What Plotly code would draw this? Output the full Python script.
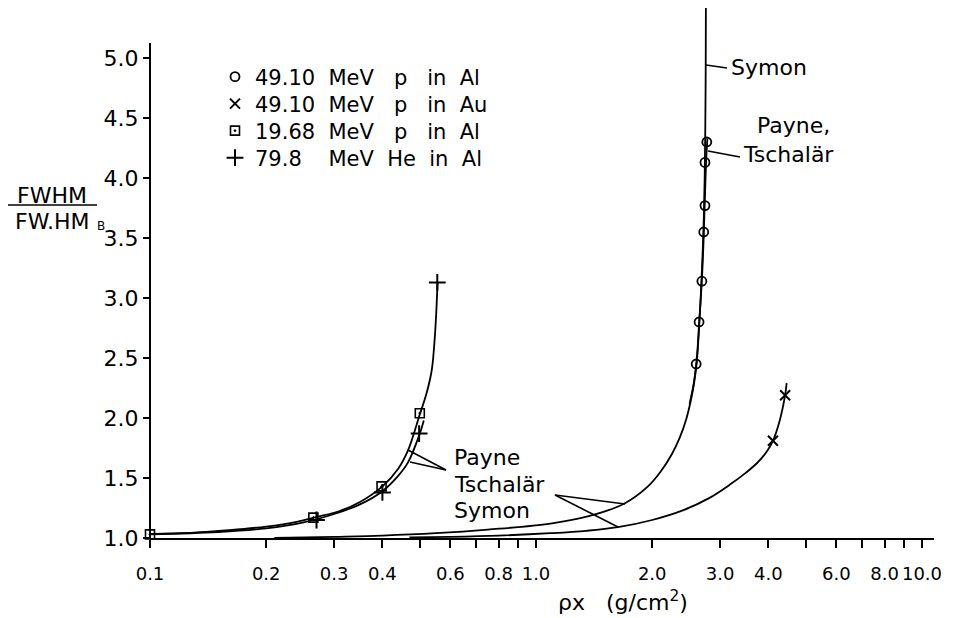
import plotly.graph_objects as go

# ---------------- data ----------------
# measured points
al49_x = [2.60, 2.645, 2.69, 2.72, 2.74, 2.74, 2.77]
al49_y = [2.45, 2.80, 3.14, 3.55, 3.77, 4.13, 4.30]
au49_x = [4.11, 4.42]
au49_y = [1.81, 2.19]
al19_x = [0.100, 0.265, 0.398, 0.500]
al19_y = [1.03, 1.17, 1.43, 2.04]
he80_x = [0.270, 0.400, 0.498, 0.555]
he80_y = [1.15, 1.38, 1.87, 3.13]

# theory curves
low_pt_x = [0.100, 0.130, 0.160, 0.200, 0.240, 0.270, 0.310, 0.350, 0.400,
            0.440, 0.466, 0.500, 0.521, 0.537, 0.547, 0.552, 0.556]
low_pt_y = [1.035, 1.045, 1.065, 1.095, 1.135, 1.175, 1.225, 1.300, 1.430,
            1.580, 1.730, 2.030, 2.210, 2.400, 2.680, 2.900, 3.130]
low_sy_x = [0.100, 0.150, 0.200, 0.250, 0.300, 0.350, 0.400, 0.440, 0.466,
            0.500, 0.512]
low_sy_y = [1.030, 1.050, 1.080, 1.130, 1.200, 1.280, 1.390, 1.520, 1.630,
            1.870, 1.980]
al_sy_x = [0.21, 0.30, 0.40, 0.55, 0.75, 1.09, 1.40, 1.70, 1.95, 2.10, 2.25,
           2.36, 2.45, 2.52, 2.57, 2.61, 2.645, 2.675, 2.70, 2.72, 2.735,
           2.745, 2.752, 2.755]
al_sy_y = [1.00, 1.01, 1.02, 1.04, 1.07, 1.12, 1.19, 1.29, 1.43, 1.55, 1.70,
           1.84, 1.99, 2.15, 2.30, 2.47, 2.75, 3.05, 3.35, 3.65, 4.00,
           4.40, 4.90, 5.42]
al_pt_x = [2.50, 2.56, 2.61, 2.65, 2.69, 2.72, 2.74, 2.76, 2.78]
al_pt_y = [2.12, 2.28, 2.50, 2.82, 3.15, 3.52, 3.85, 4.15, 4.33]
au_x = [0.47, 0.60, 0.80, 1.09, 1.35, 1.63, 2.00, 2.40, 2.80, 3.18, 3.50,
        3.74, 3.95, 4.11, 4.28, 4.42, 4.46]
au_y = [1.005, 1.01, 1.02, 1.04, 1.06, 1.09, 1.15, 1.23, 1.33, 1.445, 1.545,
        1.625, 1.715, 1.81, 1.98, 2.19, 2.29]

# axis ticks
x_ticks = [0.1, 0.2, 0.3, 0.4, 0.6, 0.8, 1.0, 2.0, 3.0, 4.0, 6.0, 8.0, 10.0]
x_tick_text = ["0.1", "0.2", "0.3", "0.4", "0.6", "0.8", "1.0",
               "2.0", "3.0", "4.0", "6.0", "8.0", "10.0"]
x_minor_ticks = [0.5, 0.7, 0.9, 5.0, 7.0, 9.0]
y_ticks = [1.0, 1.5, 2.0, 2.5, 3.0, 3.5, 4.0, 4.5, 5.0]
y_tick_text = ["1.0", "1.5", "2.0", "2.5", "3.0", "3.5", "4.0", "4.5", "5.0"]

legend_names = [
    "49.10\u00a0\u00a0MeV\u00a0\u00a0\u00a0p\u00a0\u00a0\u00a0in\u00a0\u00a0Al",
    "49.10\u00a0\u00a0MeV\u00a0\u00a0\u00a0p\u00a0\u00a0\u00a0in\u00a0\u00a0Au",
    "19.68\u00a0\u00a0MeV\u00a0\u00a0\u00a0p\u00a0\u00a0\u00a0in\u00a0\u00a0Al",
    "79.8\u00a0\u00a0\u00a0\u00a0MeV\u00a0\u00a0He\u00a0\u00a0in\u00a0\u00a0Al",
]

# ---------------- layout geometry ----------------
# the page body has an 8px margin, so the figure is made 8px smaller and all
# page-pixel positions below are shifted by that offset
OFF = 8
WIN_W, WIN_H = 956, 618
FIG_W, FIG_H = WIN_W - OFF, WIN_H - OFF
PLOT_L, PLOT_R, PLOT_T, PLOT_B = 150, 934, 8, 538   # page pixels
ML = PLOT_L - OFF
MR = FIG_W - (PLOT_R - OFF)
MT = PLOT_T - OFF
MB = FIG_H - (PLOT_B - OFF)
PW = FIG_W - ML - MR
PH = FIG_H - MT - MB
PX_PER_DECADE = 386.0
PX_PER_UNIT = 120.0
x_range = [-1.0, -1.0 + PW / PX_PER_DECADE]
y_range = [1.0, 1.0 + PH / PX_PER_UNIT]


def px(x):
    return (x - PLOT_L) / PW


def py(y):
    return (PLOT_B - y) / PH


FONT = "DejaVu Sans"
BLACK = "black"

fig = go.Figure()

curve_style = dict(color=BLACK, width=1.8)
for cx, cy in [(low_pt_x, low_pt_y), (low_sy_x, low_sy_y), (al_sy_x, al_sy_y),
               (al_pt_x, al_pt_y), (au_x, au_y)]:
    fig.add_trace(go.Scatter(x=cx, y=cy, mode="lines", line=curve_style,
                             line_shape="spline", showlegend=False,
                             hoverinfo="skip"))

fig.add_trace(go.Scatter(
    x=al49_x, y=al49_y, mode="markers", name=legend_names[0], cliponaxis=False,
    legend="legend",
    marker=dict(symbol="circle-open", size=9, color=BLACK,
                line=dict(width=1.8, color=BLACK))))
fig.add_trace(go.Scatter(
    x=au49_x, y=au49_y, mode="markers", name=legend_names[1], cliponaxis=False,
    legend="legend2",
    marker=dict(symbol="x-thin-open", size=10, color=BLACK,
                line=dict(width=2, color=BLACK))))
fig.add_trace(go.Scatter(
    x=al19_x, y=al19_y, mode="markers", name=legend_names[2], cliponaxis=False,
    legend="legend3",
    marker=dict(symbol="square-open-dot", size=9, color=BLACK,
                line=dict(width=1.6, color=BLACK))))
fig.add_trace(go.Scatter(
    x=he80_x, y=he80_y, mode="markers", name=legend_names[3], cliponaxis=False,
    legend="legend4",
    marker=dict(symbol="cross-thin-open", size=12, color=BLACK,
                line=dict(width=2, color=BLACK))))

annotations = []


def label(text, x, y, size=22, anchor="left"):
    annotations.append(dict(text=text, x=px(x), y=py(y), xref="paper",
                            yref="paper", xanchor=anchor, yanchor="middle",
                            showarrow=False,
                            font=dict(family=FONT, size=size, color=BLACK)))


label("Symon", 729, 68)
label("Payne,", 755, 126)
label("Tschalär", 741, 154)
label("Payne", 452, 457)
label("Tschalär", 452, 484)
label("Symon", 452, 510)
# y-axis title (fraction)
label("FWHM", 52, 195, size=22, anchor="center")
label("FW.HM", 52, 221, size=22, anchor="center")
label("B", 95, 226, size=12)
# x-axis title
label("\u03c1x\u00a0\u00a0\u00a0(g/cm<sup>2</sup>)", 623, 601, size=22,
      anchor="center")

shapes = []


def seg(x0, y0, x1, y1, w=1.6):
    shapes.append(dict(type="line", xref="paper", yref="paper",
                       x0=px(x0), y0=py(y0), x1=px(x1), y1=py(y1),
                       line=dict(color=BLACK, width=w)))


# y axis line
seg(150, 538, 150, 43, w=2)
# fraction bar
seg(8, 205, 97, 205, w=1.6)
# leader lines
seg(706, 65, 727, 68)
seg(708, 151, 740, 157)
seg(446, 470, 408, 450)
seg(446, 470, 410, 462)
seg(555, 495, 625, 504)
seg(555, 495, 618, 527)


def legend_box(row_y):
    return dict(x=px(215), y=py(row_y), xanchor="left", yanchor="middle",
                bgcolor="rgba(0,0,0,0)", borderwidth=0,
                font=dict(family=FONT, size=21, color=BLACK),
                itemwidth=30, tracegroupgap=0)


fig.update_layout(
    width=FIG_W, height=FIG_H,
    margin=dict(l=ML, r=MR, t=MT, b=MB, pad=0, autoexpand=False),
    paper_bgcolor="white", plot_bgcolor="white",
    font=dict(family=FONT, size=21, color=BLACK),
    annotations=annotations, shapes=shapes,
    showlegend=True,
    legend=legend_box(77),
    legend2=legend_box(104),
    legend3=legend_box(131),
    legend4=legend_box(158),
    xaxis=dict(type="log", range=x_range, tickmode="array", tickvals=x_ticks,
               ticktext=x_tick_text, ticks="outside", ticklen=8, tickwidth=1.6,
               tickcolor=BLACK, showline=True, linecolor=BLACK, linewidth=2,
               showgrid=False, zeroline=False, ticklabelstandoff=10,
               tickangle=0, automargin=False,
               minor=dict(tickmode="array", tickvals=x_minor_ticks,
                          ticks="outside", ticklen=8, tickwidth=1.6,
                          tickcolor=BLACK, showgrid=False),
               tickfont=dict(family=FONT, size=18, color=BLACK)),
    yaxis=dict(range=y_range, tickmode="array", tickvals=y_ticks,
               ticktext=y_tick_text, ticks="outside", ticklen=6, tickwidth=1.6,
               tickcolor=BLACK, showline=False, showgrid=False, zeroline=False,
               automargin=False,
               tickfont=dict(family=FONT, size=22, color=BLACK)),
)

fig.write_html("out.html")
